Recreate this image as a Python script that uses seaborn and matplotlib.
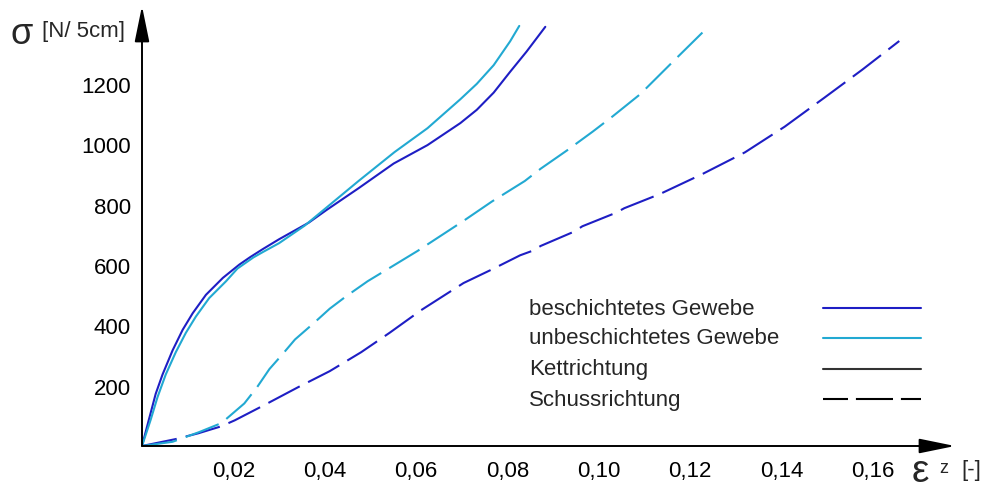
import numpy as np
import pandas as pd
import matplotlib
matplotlib.use("Agg")
import matplotlib.pyplot as plt
import seaborn as sns
from matplotlib.lines import Line2D

# Dehnung (eps) und Spannung (sigma) der vier Kurven
besch_kett_eps = [0, 0.0015, 0.0030, 0.0045, 0.0067, 0.0089, 0.0111, 0.0140, 0.0177, 0.0213, 0.0236, 0.0264,
                  0.0300, 0.0365, 0.0404, 0.0474, 0.0551, 0.0625, 0.0697, 0.0733, 0.0770, 0.0806, 0.0842, 0.0883]
besch_kett_sig = [0, 87, 173, 237, 317, 385, 440, 501, 557, 601, 625, 652,
                  685, 740, 782, 854, 936, 997, 1070, 1114, 1171, 1240, 1307, 1389]

unbesch_kett_eps = [0, 0.0019, 0.0034, 0.0052, 0.0074, 0.0096, 0.0118, 0.0147, 0.0184, 0.0209, 0.0244,
                    0.0265, 0.0300, 0.0356, 0.0474, 0.0553, 0.0625, 0.0697, 0.0733, 0.0770, 0.0806, 0.0826]
unbesch_kett_sig = [0, 87, 162, 237, 311, 375, 429, 490, 546, 588, 625,
                    643, 672, 730, 878, 974, 1053, 1149, 1200, 1262, 1341, 1392]

besch_schuss_eps = [0, 0.0074, 0.0123, 0.0173, 0.0203, 0.0267, 0.0342, 0.0411, 0.0480, 0.0542, 0.0611,
                    0.0704, 0.0766, 0.0828, 0.0857, 0.0873, 0.0947, 0.0964, 0.1038, 0.1056, 0.1134,
                    0.1228, 0.1320, 0.1407, 0.1493, 0.1577, 0.1658]
besch_schuss_sig = [0, 23, 42, 65, 85, 135, 195, 248, 311, 375, 450,
                    540, 585, 632, 648, 663, 711, 728, 773, 788, 835,
                    902, 973, 1058, 1153, 1247, 1342]

unbesch_schuss_eps = [0, 0.0067, 0.0125, 0.0174, 0.0224, 0.0252, 0.0279, 0.0307, 0.0335, 0.0376, 0.0411,
                      0.0446, 0.0494, 0.0542, 0.0604, 0.0704, 0.0766, 0.0838, 0.0873, 0.0931, 0.0987,
                      0.1031, 0.1091, 0.1166, 0.1227]
unbesch_schuss_sig = [0, 14, 46, 76, 141, 195, 255, 303, 353, 407, 455,
                      495, 546, 590, 647, 746, 810, 878, 919, 980, 1042,
                      1093, 1166, 1279, 1370]

x_ticks = [0.02, 0.04, 0.06, 0.08, 0.10, 0.12, 0.14, 0.16]
x_ticklabels = ["0,02", "0,04", "0,06", "0,08", "0,10", "0,12", "0,14", "0,16"]
y_ticks = [200, 400, 600, 800, 1000, 1200]

legend_labels = ["beschichtetes Gewebe", "unbeschichtetes Gewebe", "Kettrichtung", "Schussrichtung"]

# Tabelle fuer seaborn
frames = []
for eps, sig, gew, ri in [(besch_kett_eps, besch_kett_sig, "beschichtet", "Kett"),
                          (unbesch_kett_eps, unbesch_kett_sig, "unbeschichtet", "Kett"),
                          (besch_schuss_eps, besch_schuss_sig, "beschichtet", "Schuss"),
                          (unbesch_schuss_eps, unbesch_schuss_sig, "unbeschichtet", "Schuss")]:
    frames.append(pd.DataFrame({"eps": eps, "sigma": sig, "Gewebe": gew, "Richtung": ri}))
df = pd.concat(frames, ignore_index=True)

sns.set_style("white")
plt.rcParams["font.family"] = ["Liberation Sans", "DejaVu Sans"]

dunkelblau = "#1e1ec4"
cyan = "#22a9d2"

fig = plt.figure(figsize=(9.85, 4.89), dpi=100)
ax = fig.add_axes([142 / 985, 42 / 489, 813 / 985, 440 / 489])

sns.lineplot(data=df, x="eps", y="sigma", hue="Gewebe", style="Richtung",
             palette={"beschichtet": dunkelblau, "unbeschichtet": cyan},
             dashes={"Kett": "", "Schuss": (17, 4.5)},
             estimator=None, sort=False, legend=False, linewidth=1.5, ax=ax)

ax.set_xlim(0, 0.178)
ax.set_ylim(0, 1458)
for s in ax.spines.values():
    s.set_visible(False)

ax.set_xticks(x_ticks)
ax.set_xticklabels(x_ticklabels)
ax.set_yticks(y_ticks)
ax.tick_params(axis="x", direction="in", length=7, width=1.2, pad=10, labelsize=16, colors="black")
ax.tick_params(axis="y", direction="inout", length=15, width=1.2, pad=0.5, labelsize=16, colors="black")
ax.set_xlabel("")
ax.set_ylabel("")

# Achsen mit Pfeilen
pfeil = dict(arrowstyle="-|>,head_length=2.2,head_width=0.45", color="black", lw=1.4,
             shrinkA=0, shrinkB=0, mutation_scale=10)
ax.annotate("", xy=(0, 1), xytext=(0, 0), xycoords="axes fraction", arrowprops=pfeil, annotation_clip=False)
ax.annotate("", xy=(1, 0), xytext=(0, 0), xycoords="axes fraction", arrowprops=pfeil, annotation_clip=False)

# Achsenbeschriftungen
fig.text(10 / 985, 1 - 34 / 489, "σ", fontsize=26, va="center", ha="left")
fig.text(42 / 985, 1 - 31 / 489, "[N/ 5cm]", fontsize=16, va="center", ha="left")
fig.text(912 / 985, 1 - 472 / 489, "ε", fontsize=28, va="center", ha="left")
fig.text(939 / 985, 1 - 469 / 489, "z", fontsize=13, va="center", ha="left")
fig.text(961 / 985, 1 - 471 / 489, "[-]", fontsize=16, va="center", ha="left")

# Legende: Text links, Linie rechts
leg_styles = [dict(color=dunkelblau, ls="-"), dict(color=cyan, ls="-"),
              dict(color="#333333", ls="-"), dict(color="black", dashes=(12, 3.8, 17.8, 3.8))]
leg_y = [0.3136, 0.2455, 0.175, 0.1068]
for lab, st, yy in zip(legend_labels, leg_styles, leg_y):
    ax.text(0.476, yy, lab, transform=ax.transAxes, fontsize=16, va="center", ha="left")
    ax.add_line(Line2D([0.8376, 0.9582], [yy, yy], transform=ax.transAxes, lw=1.5, **st))

fig.savefig("out.png", dpi=100)
